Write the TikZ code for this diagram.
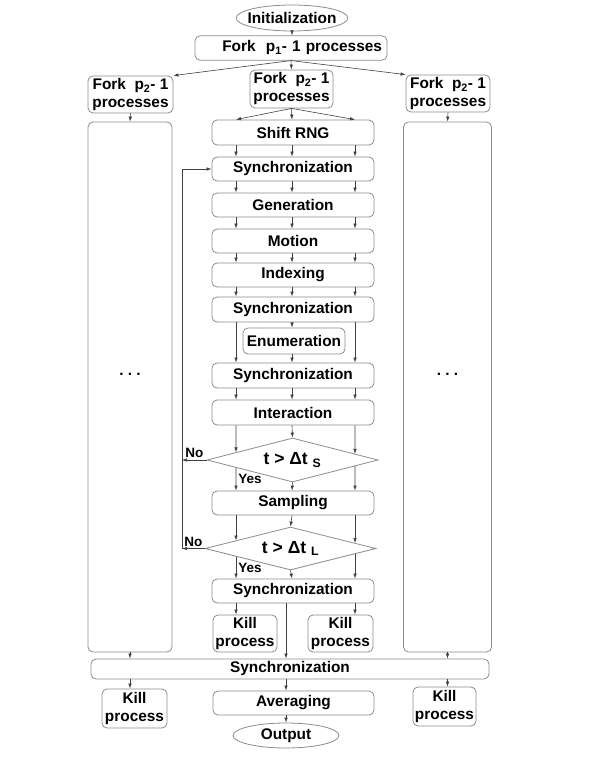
\documentclass[tikz,border=0pt]{standalone}
\usepackage{fontspec}
\setmainfont{Liberation Sans}
\usetikzlibrary{arrows.meta,calc,shapes.geometric}
\tikzset{
  flow box/.style={
    rounded corners=5pt,
    draw=black!45,
    line width=0.8pt,
    fill=white,
    align=center,
    inner sep=2pt,
  },
  flow oval/.style={
    ellipse,
    draw=black!45,
    line width=0.8pt,
    inner xsep=-5pt,
    inner ysep=0pt,
  },
  flow test/.style={
    diamond,
    draw=black!45,
    line width=0.8pt,
    shape aspect=4,
    inner sep=0pt,
    minimum width=171,
    font=\fontsize{17.5}{20}\selectfont\bfseries,
  },
  flow arrow/.style={-{Latex[length=5pt,width=3.5pt]}, line width=0.6pt, draw=black!75},
  flow tag/.style={font=\fontsize{13.5}{15}\selectfont\bfseries, inner sep=2pt},
}

\begin{document}
\begin{tikzpicture}[x=1pt, y=-1pt, >=Latex,
  font=\fontsize{15.4}{18}\selectfont\bfseries]
  \useasboundingbox (0,0) rectangle (595,770);

  % --- Start and first fork ---
  \node[flow oval, minimum width=110, minimum height=26] (init) at (292,18) {Initialization};
  \node[flow box, text width=182, align=right, inner sep=5pt, minimum height=20]
    (fork1) at (291,48) {Fork\ \ p\textsubscript{1}- 1 processes};

  % --- Second level forks ---
  \node[flow box, minimum width=85, minimum height=37] (forkL) at (130.5,94.5) {Fork\ \ p\textsubscript{2}- 1\\processes};
  \node[flow box, minimum width=83, minimum height=38] (forkM) at (291.5,89) {Fork\ \ p\textsubscript{2}- 1\\processes};
  \node[flow box, minimum width=84, minimum height=37] (forkR) at (448,93.5) {Fork\ \ p\textsubscript{2}- 1\\processes};

  % --- Side lanes (same work as the middle one) ---
  \node[flow box, minimum width=84, minimum height=530] (laneL) at (130,387) {};
  \node[flow box, minimum width=88, minimum height=530] (laneR) at (447.5,387) {};
  \node (dotsL) at ($(laneL.center)+(0,-13)$) {.\ .\ .};
  \node (dotsR) at ($(laneR.center)+(0,-13)$) {.\ .\ .};

  % --- Middle lane ---
  \node[flow box, minimum width=162, minimum height=25] (shift) at (293,132.5) {Shift RNG};
  \node[flow box, minimum width=162, minimum height=24] (sync1) at (293,169) {Synchronization};
  \node[flow box, minimum width=162, minimum height=24] (gen) at (293,205) {Generation};
  \node[flow box, minimum width=162, minimum height=24] (motion) at (293,241) {Motion};
  \node[flow box, minimum width=162, minimum height=24] (index) at (293,275) {Indexing};
  \node[flow box, minimum width=162, minimum height=25] (sync2) at (293,309.5) {Synchronization};
  \node[flow box, minimum width=102, minimum height=26] (enum) at (294,341) {Enumeration};
  \node[flow box, minimum width=162, minimum height=25] (sync3) at (293,375.5) {Synchronization};
  \node[flow box, minimum width=162, minimum height=25] (inter) at (293,412.5) {Interaction};
  \node[flow test, minimum height=44] (testS) at (292.5,460) {t > Δt \textsubscript{S}};
  \node[flow box, minimum width=162, minimum height=24] (sampl) at (293,503) {Sampling};
  \node[flow test, minimum height=43] (testL) at (290.5,548.5) {t > Δt \textsubscript{L}};
  \node[flow box, minimum width=162, minimum height=24] (sync4) at (293,591) {Synchronization};
  \node[flow box, minimum width=64, minimum height=37] (killA) at (245,633.5) {Kill\\process};
  \node[flow box, minimum width=65, minimum height=37] (killB) at (340.5,633.5) {Kill\\process};

  % --- Closing part ---
  \node[flow box, minimum width=398, minimum height=20] (syncAll) at (290,669) {Synchronization};
  \node[flow box, minimum width=65, minimum height=39] (killL) at (134.5,708.5) {Kill\\process};
  \node[flow box, minimum width=161, minimum height=24] (aver) at (293.5,703) {Averaging};
  \node[flow box, minimum width=63, minimum height=39] (killR) at (444.5,706.5) {Kill\\process};
  \node[flow oval, minimum width=106, minimum height=25] (out) at (286,735.5) {Output};

  % columns of the middle lane and the way back
  \coordinate (colL) at (236,0);  \coordinate (colLb) at (236,770);
  \coordinate (colM) at (292,0);
  \coordinate (colR) at (355,0);  \coordinate (colRb) at (355,770);
  \coordinate (back) at (182,0);

  % --- Forking ---
  \draw[flow arrow] (init.south) -- (init |- fork1.north);
  \draw[flow arrow] (fork1.south) -- (forkL.north east);
  \draw[flow arrow] (fork1.south) -- (forkM.north);
  \draw[flow arrow] (fork1.south) -- (forkR.north west);
  \draw[flow arrow] (forkL.south) -- (laneL.north);
  \draw[flow arrow] (forkR.south) -- (laneR.north);
  \draw[flow arrow] (forkM.south) -- (colL |- shift.north);
  \draw[flow arrow] (forkM.south) -- (colM |- shift.north);
  \draw[flow arrow] (forkM.south) -- (colR |- shift.north);

  % --- Steps of the middle lane ---
  \draw[flow arrow] (colL |- shift.south) -- (colL |- sync1.north);
  \draw[flow arrow] (colM |- shift.south) -- (colM |- sync1.north);
  \draw[flow arrow] (colR |- shift.south) -- (colR |- sync1.north);
  \draw[flow arrow] (colL |- sync1.south) -- (colL |- gen.north);
  \draw[flow arrow] (colM |- sync1.south) -- (colM |- gen.north);
  \draw[flow arrow] (colR |- sync1.south) -- (colR |- gen.north);
  \draw[flow arrow] (colL |- gen.south) -- (colL |- motion.north);
  \draw[flow arrow] (colM |- gen.south) -- (colM |- motion.north);
  \draw[flow arrow] (colR |- gen.south) -- (colR |- motion.north);
  \draw[flow arrow] (colL |- motion.south) -- (colL |- index.north);
  \draw[flow arrow] (colM |- motion.south) -- (colM |- index.north);
  \draw[flow arrow] (colR |- motion.south) -- (colR |- index.north);
  \draw[flow arrow] (colL |- index.south) -- (colL |- sync2.north);
  \draw[flow arrow] (colM |- index.south) -- (colM |- sync2.north);
  \draw[flow arrow] (colR |- index.south) -- (colR |- sync2.north);
  \draw[flow arrow] (colL |- sync2.south) -- (colL |- sync3.north);
  \draw[flow arrow] (colM |- sync2.south) -- (colM |- enum.north);
  \draw[flow arrow] (colR |- sync2.south) -- (colR |- sync3.north);
  \draw[flow arrow] (colM |- enum.south) -- (colM |- sync3.north);
  \draw[flow arrow] (colL |- sync3.south) -- (colL |- inter.north);
  \draw[flow arrow] (colM |- sync3.south) -- (colM |- inter.north);
  \draw[flow arrow] (colR |- sync3.south) -- (colR |- inter.north);

  % --- First test ---
  \draw[flow arrow] (colL |- inter.south) -- (intersection of colL--colLb and testS.west--testS.north);
  \draw[flow arrow] (colM |- inter.south) -- (testS.north);
  \draw[flow arrow] (colR |- inter.south) -- (intersection of colR--colRb and testS.east--testS.north);
  \draw[flow arrow] (intersection of colL--colLb and testS.west--testS.south)
    -- node[flow tag, right] {Yes} (colL |- sampl.north);
  \draw[flow arrow] (testS.south) -- (colM |- sampl.north);
  \draw[flow arrow] (intersection of colR--colRb and testS.east--testS.south) -- (colR |- sampl.north);

  % --- Second test ---
  \draw[flow arrow] (colL |- sampl.south) -- (intersection of colL--colLb and testL.west--testL.north);
  \draw[flow arrow] (colM |- sampl.south) -- (testL.north);
  \draw[flow arrow] (colR |- sampl.south) -- (intersection of colR--colRb and testL.east--testL.north);
  \draw[flow arrow] (intersection of colL--colLb and testL.west--testL.south)
    -- node[flow tag, right] {Yes} (colL |- sync4.north);
  \draw[flow arrow] (testL.south) -- (colM |- sync4.north);
  \draw[flow arrow] (intersection of colR--colRb and testL.east--testL.south) -- (colR |- sync4.north);

  % --- Way back to the synchronization ---
  \draw[flow arrow] (testS.west) -- node[flow tag, above] {No} (back |- testS.west);
  \draw[flow arrow] (testL.west) -- node[flow tag, above] {No} (back |- testL.west);
  \draw[flow arrow] (back |- testL.west) |- (sync1.west);

  % --- End of the middle lane ---
  \draw[flow arrow] (colL |- sync4.south) -- (colL |- killA.north);
  \draw[flow arrow] (colR |- sync4.south) -- (colR |- killB.north);
  \draw[flow arrow] (out |- sync4.south) -- (out |- syncAll.north);
  \draw[flow arrow] (laneL.south) -- (laneL |- syncAll.north);
  \draw[flow arrow] (laneR.south) -- (laneR |- syncAll.north);

  % --- Closing ---
  \draw[flow arrow] (laneL |- syncAll.south) -- (laneL |- killL.north);
  \draw[flow arrow] (out |- syncAll.south) -- (out |- aver.north);
  \draw[flow arrow] (laneR |- syncAll.south) -- (laneR |- killR.north);
  \draw[flow arrow] (out |- aver.south) -- (out.north);

\end{tikzpicture}
\end{document}
